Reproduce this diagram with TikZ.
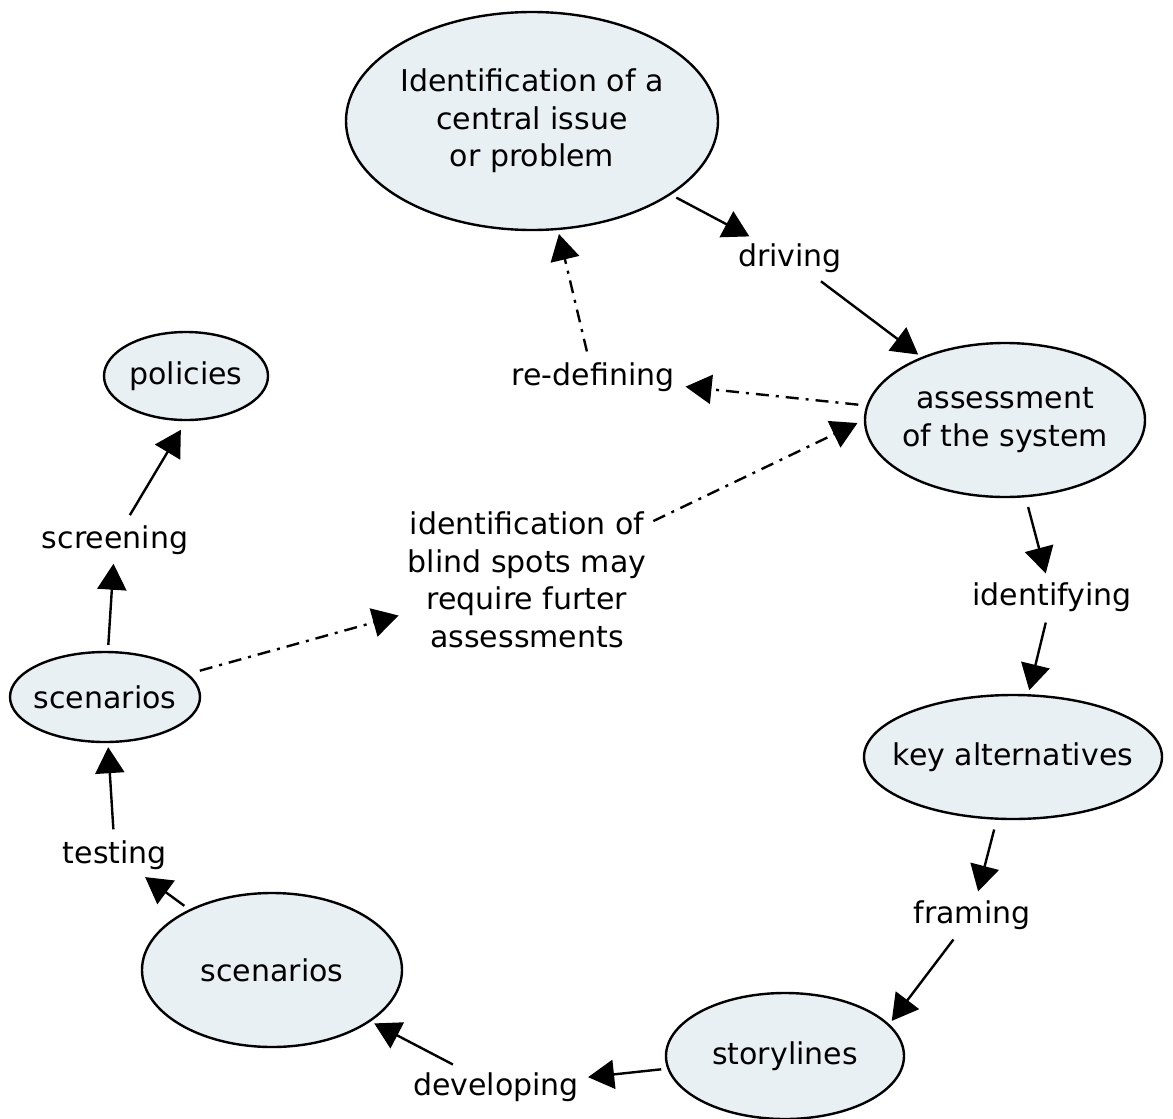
\documentclass[tikz,border=0pt]{standalone}
\usepackage{fontspec}
\setmainfont{DejaVu Sans}
\usetikzlibrary{shapes.geometric,arrows.meta}
\definecolor{conceptfill}{HTML}{E8F0F4}
\begin{document}
\begin{tikzpicture}[x=1pt,y=-1pt,line join=round,
	font=\fontsize{30}{37.5}\selectfont,
	concept/.style={ellipse,draw,line width=2.4pt,fill=conceptfill,inner xsep=-16pt,inner ysep=0pt,align=center},
	link/.style={inner sep=5pt,align=center},
	arr/.style={line width=2.4pt,-{Triangle[length=26pt,width=29pt]},shorten <=6pt,shorten >=4pt},
	dd/.style={arr,dash pattern=on 13pt off 7pt on 3pt off 7pt}]
	\useasboundingbox (0,0) rectangle (1173,1119);
	% concepts
	\node[concept,minimum width=372,minimum height=218] (issue) at (532,121) {Identification of a\\central issue\\or problem};
	\node[concept,minimum width=280,minimum height=154] (assess) at (1005,420) {assessment\\of the system};
	\node[concept,minimum width=298,minimum height=124] (key) at (1013,757) {key alternatives};
	\node[concept,minimum width=238,minimum height=126] (story) at (785,1056) {storylines};
	\node[concept,minimum width=260,minimum height=154] (scenB) at (272,970) {scenarios};
	\node[concept,minimum width=190,minimum height=90] (scenL) at (105,697) {scenarios};
	\node[concept,minimum width=164,minimum height=88] (pol) at (186,376) {policies};
	% linking phrases
	\node[link] (drive) at (790,258) {driving};
	\node[link] (redef) at (593,377) {re-defining};
	\node[link] (ident) at (1052,597) {identifying};
	\node[link] (frame) at (972,915) {framing};
	\node[link] (develop) at (496,1087) {developing};
	\node[link] (test) at (115,855) {testing};
	\node[link] (screen) at (115,540) {screening};
	\node[link] (blind) at (527,580) {identification of\\blind spots may\\require furter\\assessments};
	% solid links
	\foreach \a/\b in {issue/drive,drive/assess,ident/key,story/develop,develop/scenB,scenB/test,test/scenL,scenL/screen}
	\draw[arr] (\a) -- (\b);
	\draw[arr,shorten <=10pt] (assess) -- (ident);
	\draw[arr,shorten <=10pt] (key) -- (frame);
	\draw[arr] (frame) -- (story.17);
	\draw[arr,shorten >=10pt] (screen) -- (pol.south);
	% dash-dot links
	\draw[dd,shorten <=8pt,shorten >=6pt] (assess) -- (redef);
	\draw[dd] (redef) -- (issue);
	\draw[dd,shorten <=2pt,shorten >=7pt] (blind.25) -- (assess.west);
	\draw[dd,shorten <=12pt] (scenL) -- (blind);
\end{tikzpicture}
\end{document}
